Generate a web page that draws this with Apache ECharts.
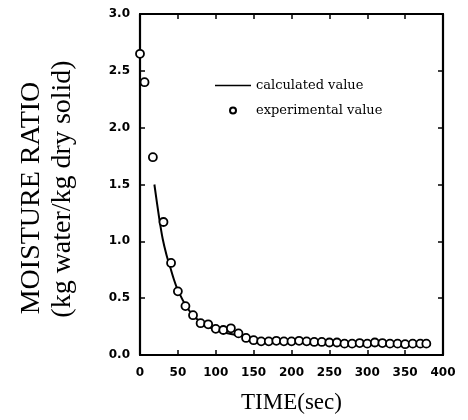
<!DOCTYPE html>
<html>
<head>
<meta charset="utf-8">
<script src="https://cdn.jsdelivr.net/npm/echarts@6/dist/echarts.min.js"></script>
<style>
  html, body { margin: 0; padding: 0; background: #fff; }
  #chart { width: 468px; height: 420px; }
</style>
</head>
<body>
<div id="chart"></div>
<script>
'use strict';

// experimental points (time in sec, moisture ratio)
var expTime = [0, 6, 17, 31, 41, 50, 60, 70, 80, 90, 100, 110, 120, 130, 140, 150, 160,
    170, 180, 190, 200, 210, 220, 230, 240, 250, 260, 270, 280, 290, 300, 310, 320, 330,
    340, 350, 360, 370, 378];
var expValue = [2.65, 2.40, 1.74, 1.17, 0.81, 0.56, 0.43, 0.35, 0.28, 0.27, 0.23, 0.22, 0.235,
    0.19, 0.15, 0.13, 0.12, 0.12, 0.125, 0.12, 0.12, 0.125, 0.12, 0.115, 0.115, 0.11, 0.11,
    0.10, 0.10, 0.105, 0.10, 0.11, 0.105, 0.10, 0.10, 0.095, 0.10, 0.10, 0.10];

// calculated curve
var calcTime = [19, 25, 30, 35, 40, 45, 50, 60, 70, 80, 90, 100, 120, 140, 160, 200, 250, 300, 350, 378];
var calcValue = [1.50, 1.22, 1.02, 0.88, 0.77, 0.66, 0.57, 0.44, 0.35, 0.29, 0.25, 0.22, 0.185,
    0.16, 0.14, 0.125, 0.115, 0.105, 0.10, 0.095];

var xTicks = [0, 400, 50];   // min, max, interval
var yTicks = [0, 3, 0.5];

function pairs(xs, ys) {
    return xs.map(function (x, i) { return [x, ys[i]]; });
}

var tickFont = { fontFamily: 'DejaVu Sans', fontWeight: 'bold', fontSize: 12, color: '#000' };
var serif = 'Liberation Serif';

function axisBase(range, pos, showLabel) {
    return {
        type: 'value',
        position: pos,
        min: range[0],
        max: range[1],
        interval: range[2],
        splitLine: { show: false },
        axisLine: { show: true, onZero: false, lineStyle: { color: '#000', width: 2.2 } },
        axisTick: { show: true, inside: true, length: 5, lineStyle: { color: '#000', width: 1.5 } },
        axisLabel: Object.assign({ show: showLabel, margin: 12 }, tickFont)
    };
}

var xBottom = axisBase(xTicks, 'bottom', true);
xBottom.name = 'TIME(sec)';
xBottom.nameLocation = 'middle';
xBottom.nameGap = 36;
xBottom.nameTextStyle = { fontFamily: serif, fontSize: 23, color: '#000' };

var yLeft = axisBase(yTicks, 'left', true);
yLeft.axisLabel.margin = 10;
yLeft.axisLabel.formatter = function (v) { return v.toFixed(1); };

var myChart = echarts.init(document.getElementById('chart'), null, { renderer: 'canvas' });
var option = {
    backgroundColor: '#fff',
    animation: false,
    grid: { left: 140, right: 25, top: 14, bottom: 65 },
    xAxis: [xBottom, axisBase(xTicks, 'top', false)],
    yAxis: [yLeft, axisBase(yTicks, 'right', false)],
    legend: {
        orient: 'vertical',
        left: 210,
        top: 74,
        itemWidth: 36,
        itemHeight: 6,
        itemGap: 12,
        textStyle: { fontFamily: 'DejaVu Serif', fontSize: 13, color: '#000' },
        data: [
            { name: 'calculated value', icon: 'path://M0,0H36V1.6H0Z' },
            { name: 'experimental value' }
        ]
    },
    graphic: [
        {
            type: 'text', x: 32, y: 198, rotation: Math.PI / 2,
            style: { text: 'MOISTURE RATIO', fontFamily: serif, fontSize: 28, fill: '#000',
                align: 'center', verticalAlign: 'middle' }
        },
        {
            type: 'text', x: 63, y: 189, rotation: Math.PI / 2,
            style: { text: '(kg water/kg dry solid)', fontFamily: serif, fontSize: 28, fill: '#000',
                align: 'center', verticalAlign: 'middle' }
        }
    ],
    series: [
        {
            name: 'calculated value',
            type: 'line',
            data: pairs(calcTime, calcValue),
            smooth: 0.3,
            symbol: 'none',
            lineStyle: { color: '#000', width: 2 },
            itemStyle: { color: '#000' },
            z: 2
        },
        {
            name: 'experimental value',
            type: 'scatter',
            data: pairs(expTime, expValue),
            symbol: 'circle',
            symbolSize: 8,
            itemStyle: { color: '#fff', borderColor: '#000', borderWidth: 1.8, opacity: 1 },
            z: 3
        }
    ]
};
myChart.setOption(option);
</script>
</body>
</html>
